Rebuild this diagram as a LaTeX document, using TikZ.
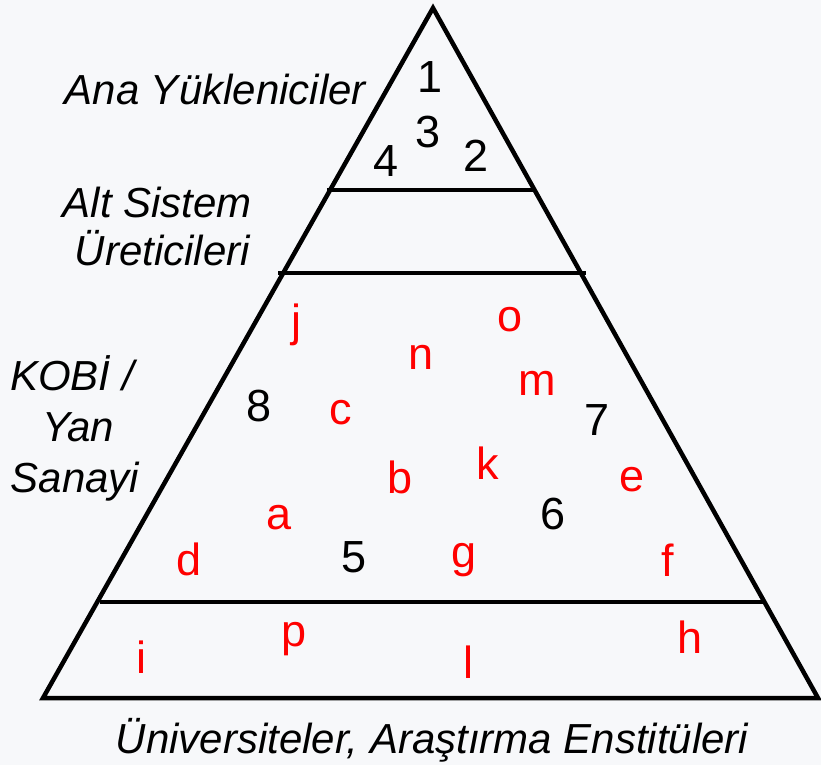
\documentclass[tikz,border=0pt]{standalone}
\usepackage{fontspec}
\setmainfont{Liberation Sans}
\usetikzlibrary{positioning}
\definecolor{bgcol}{RGB}{247,248,250}
\definecolor{redcol}{RGB}{255,0,0}

\begin{document}
\begin{tikzpicture}[x=1pt, y=-1pt,
  edge/.style={line width=4.5pt, draw=black},
  tier/.style={font=\fontsize{42}{50}\selectfont\itshape, inner sep=0pt},
  firm/.style={font=\fontsize{45}{50}\selectfont, inner sep=0pt, text=#1},
  firm/.default=black]
  \fill[bgcol] (0,0) rectangle (821,765);
  \useasboundingbox (0,0) rectangle (821,765);
  % pyramid
  \coordinate (top) at (433,8);
  \coordinate (bl) at (43,698);
  \coordinate (br) at (818,698);
  \draw[edge, line join=miter] (bl) -- (top) -- (br) -- cycle;
  \coordinate (s1l) at (327,190); \coordinate (s1r) at (535,190);
  \coordinate (s2l) at (278,273); \coordinate (s2r) at (586,273);
  \coordinate (s3l) at (100,602); \coordinate (s3r) at (766,602);
  \draw[edge] (s1l) -- (s1r);
  \draw[edge] (s2l) -- (s2r);
  \draw[edge] (s3l) -- (s3r);
  % tier labels
  \node[tier, anchor=base east] (ana) at (366,105) {Ana Yükleniciler};
  \node[tier, anchor=base east] (alt1) at (252,217) {Alt Sistem};
  \node[tier, anchor=base east] (alt2) at (250,265) {Üreticileri};
  \node[tier, anchor=base] (kobi1) at (72,390) {KOBİ /};
  \node[tier, anchor=base] (kobi2) at (78,441) {Yan};
  \node[tier, anchor=base] (kobi3) at (75,492) {Sanayi};
  \node[tier, anchor=base] (univ) at (432,753) {Üniversiteler, Araştırma Enstitüleri};
  % black firms
  \foreach \t/\x/\y in {1/430/77, 3/428/132, 4/386/161, 2/476/156,
                        8/259/406, 7/597/420, 6/553/514, 5/354/557}
    \node[firm] (n\t) at (\x,\y) {\t};
  % red firms
  \foreach \t/\x/\y in {j/296/325, o/510/320, n/421/357, m/537/383,
                        c/341/413, b/400/477, k/488/463, e/632/480,
                        a/279/518, d/189/559, g/464/560, f/668/560,
                        i/141/657, p/294/639, l/468/662, h/690/637}
    \node[firm=redcol] (r\t) at (\x,\y) {\t};
\end{tikzpicture}
\end{document}
